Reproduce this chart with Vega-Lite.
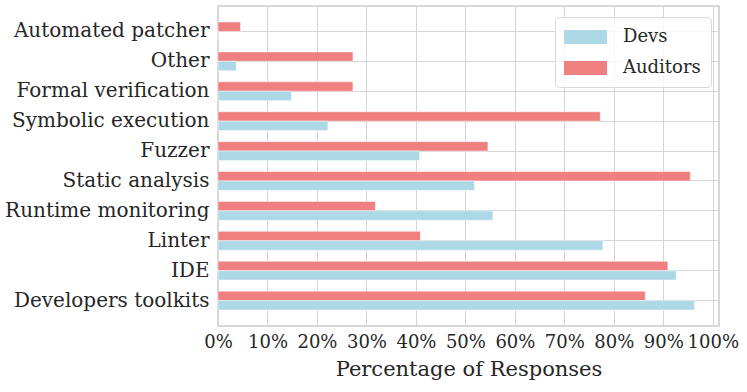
{
  "$schema": "https://vega.github.io/schema/vega-lite/v6.json",
  "width": 501,
  "height": 320,
  "autosize": {"type": "none"},
  "padding": {"left": 218, "top": 6, "right": 28, "bottom": 66},
  "background": "white",
  "config": {
    "font": "DejaVu Serif",
    "view": {"stroke": "#cccccc", "strokeWidth": 1.5},
    "axis": {"gridColor": "#d6d6d6", "gridWidth": 1, "domain": false, "ticks": false, "labelColor": "#262626", "titleColor": "#262626", "labelFont": "DejaVu Serif", "titleFont": "DejaVu Serif", "titleFontWeight": "normal"},
    "legend": {"labelFont": "DejaVu Serif"}
  },
  "data": {
    "values": [
      {"tool": "Automated patcher", "group": "Auditors", "value": 4.545},
      {"tool": "Automated patcher", "group": "Devs", "value": 0},
      {"tool": "Other", "group": "Auditors", "value": 27.27},
      {"tool": "Other", "group": "Devs", "value": 3.70},
      {"tool": "Formal verification", "group": "Auditors", "value": 27.27},
      {"tool": "Formal verification", "group": "Devs", "value": 14.81},
      {"tool": "Symbolic execution", "group": "Auditors", "value": 77.27},
      {"tool": "Symbolic execution", "group": "Devs", "value": 22.22},
      {"tool": "Fuzzer", "group": "Auditors", "value": 54.55},
      {"tool": "Fuzzer", "group": "Devs", "value": 40.74},
      {"tool": "Static analysis", "group": "Auditors", "value": 95.45},
      {"tool": "Static analysis", "group": "Devs", "value": 51.85},
      {"tool": "Runtime monitoring", "group": "Auditors", "value": 31.82},
      {"tool": "Runtime monitoring", "group": "Devs", "value": 55.56},
      {"tool": "Linter", "group": "Auditors", "value": 40.91},
      {"tool": "Linter", "group": "Devs", "value": 77.78},
      {"tool": "IDE", "group": "Auditors", "value": 90.91},
      {"tool": "IDE", "group": "Devs", "value": 92.59},
      {"tool": "Developers toolkits", "group": "Auditors", "value": 86.36},
      {"tool": "Developers toolkits", "group": "Devs", "value": 96.30}
    ]
  },
  "mark": {"type": "bar", "stroke": "white", "strokeWidth": 0.8, "strokeOpacity": 0.6},
  "encoding": {
    "y": {
      "field": "tool",
      "type": "nominal",
      "sort": ["Automated patcher", "Other", "Formal verification", "Symbolic execution", "Fuzzer", "Static analysis", "Runtime monitoring", "Linter", "IDE", "Developers toolkits"],
      "scale": {"paddingInner": 0.37, "paddingOuter": 0.535},
      "axis": {"title": null, "labelFontSize": 20, "labelPadding": 9, "bandPosition": 0.5, "grid": true, "labelLimit": 300}
    },
    "yOffset": {
      "field": "group",
      "type": "nominal",
      "sort": ["Auditors", "Devs"],
      "scale": {"paddingInner": 0, "paddingOuter": 0}
    },
    "x": {
      "field": "value",
      "type": "quantitative",
      "scale": {"domain": [0, 101.25], "nice": false, "zero": true},
      "axis": {
        "title": "Percentage of Responses",
        "values": [0, 10, 20, 30, 40, 50, 60, 70, 80, 90, 100],
        "labelExpr": "datum.value + '%'",
        "labelFontSize": 18,
        "labelPadding": 7,
        "titleFontSize": 21,
        "titlePadding": 7,
        "grid": true,
        "labelFlush": false,
        "labelOverlap": false
      }
    },
    "color": {
      "field": "group",
      "type": "nominal",
      "scale": {"domain": ["Devs", "Auditors"], "range": ["#add8e6", "#f08080"]},
      "legend": {
        "title": null,
        "orient": "none",
        "legendX": 337,
        "legendY": 11,
        "symbolType": "M-1.1,-0.7H3.2V0.7H-1.1Z",
        "symbolSize": 400,
        "symbolStrokeWidth": 0,
        "symbolOpacity": 1,
        "labelFontSize": 18,
        "labelOffset": 38,
        "rowPadding": 12,
        "padding": 10,
        "fillColor": "rgba(255,255,255,0.8)",
        "strokeColor": "#d9d9d9",
        "cornerRadius": 4,
        "labelColor": "#262626"
      }
    }
  }
}
